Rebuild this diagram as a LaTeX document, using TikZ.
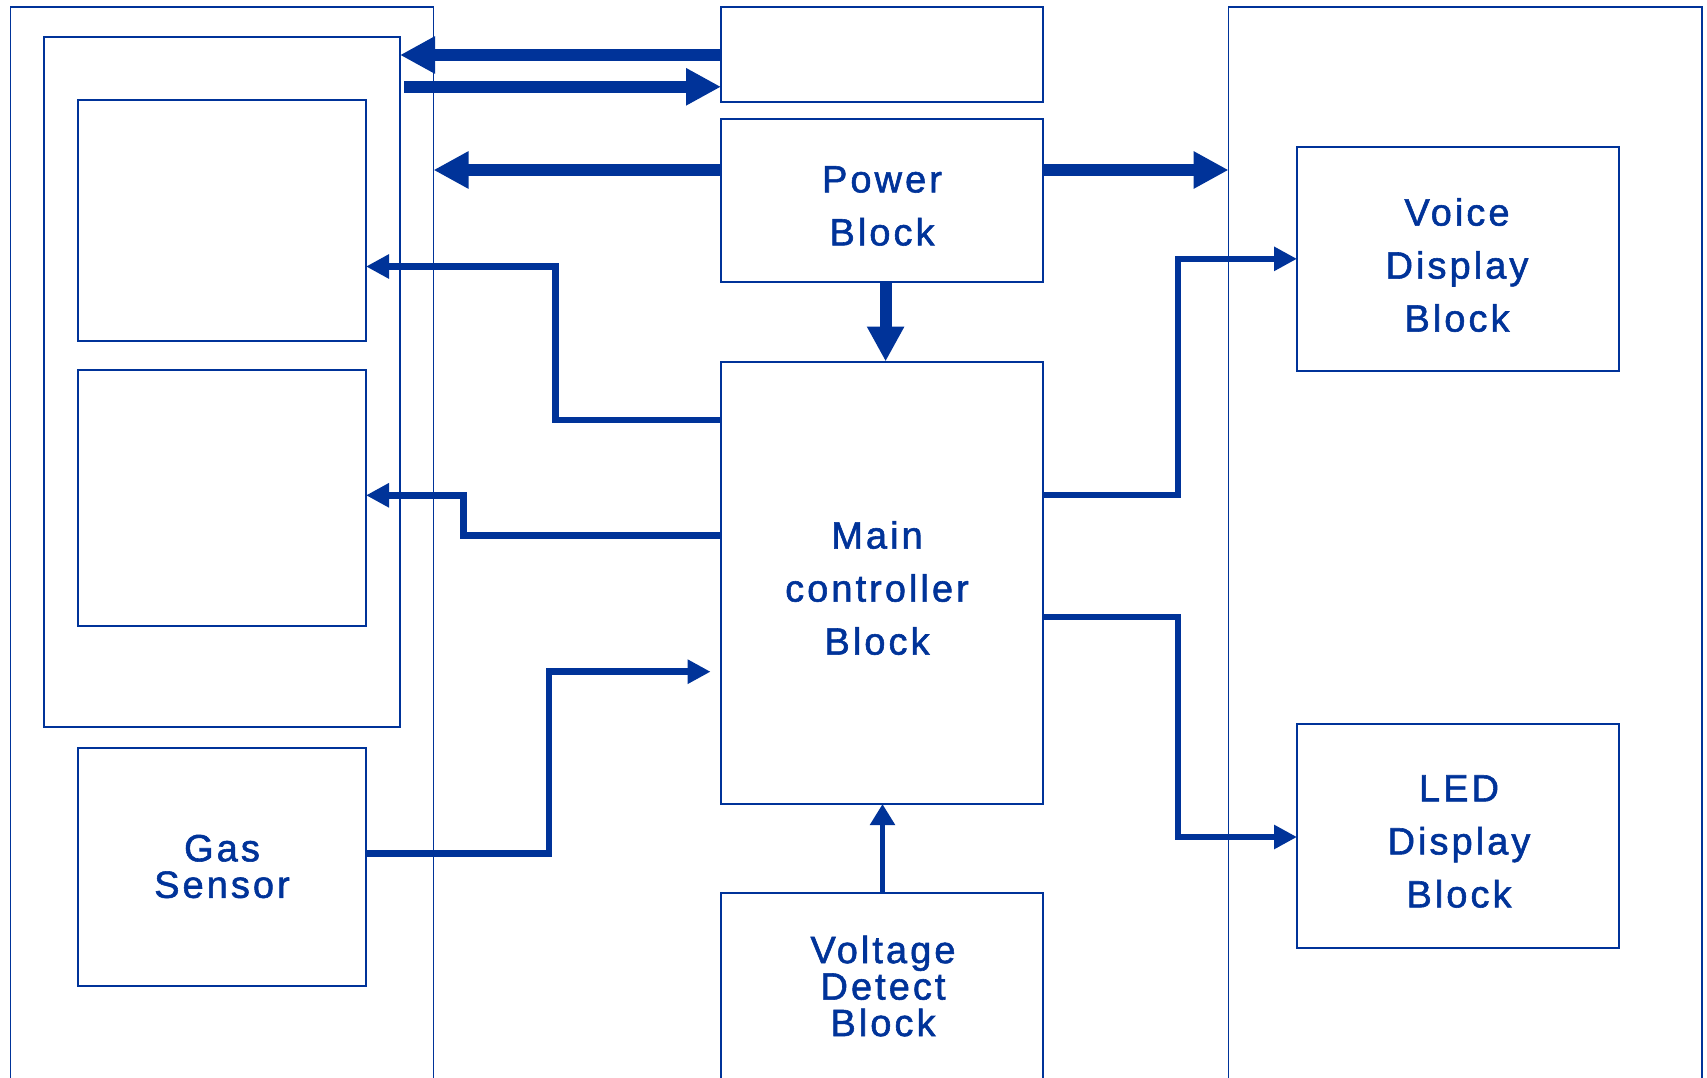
\documentclass[tikz,border=0pt]{standalone}
\usepackage{fontspec}
\setmainfont{Liberation Sans}
\newfontfamily\lblfont[LetterSpace=8,FakeBold=1.5]{Liberation Sans}
\usetikzlibrary{arrows.meta}
\definecolor{bl}{HTML}{003399}
\begin{document}
\begin{tikzpicture}[x=1pt,y=-1pt,
  frame/.style={draw=bl, line width=1.5pt, inner sep=0pt, outer sep=0pt},
  box/.style={draw=bl, line width=2pt, inner sep=0pt, outer sep=0pt},
  lbl/.style={text=bl, align=center, inner sep=0pt, font=\lblfont\fontsize{38}{53}\selectfont},
  lbltight/.style={text=bl, align=center, inner sep=0pt, font=\lblfont\fontsize{38}{36.5}\selectfont},
  fat/.style={draw=bl, line width=12pt, -{Triangle[length=35pt,width=35pt]}},
  med/.style={draw=bl, line width=6.5pt, -{Triangle[length=23pt,width=23pt]}},
  thin/.style={draw=bl, line width=5.5pt, -{Triangle[length=21pt,width=24pt]}}]
\useasboundingbox (0,0) rectangle (1707,1078);
\fill[white] (0,0) rectangle (1707,1078);
\clip (0,0) rectangle (1707,1078);

% frames and boxes
\node[frame, minimum width=423pt, minimum height=1083pt] (outerL) at (222,548.5) {};
\node[frame, minimum width=356pt, minimum height=690pt] (inner) at (222,382) {};
\node[box, minimum width=288.5pt, minimum height=241pt] (boxA) at (221.75,220.5) {};
\node[box, minimum width=288.5pt, minimum height=256pt] (boxB) at (221.75,498) {};
\node[box, minimum width=288.5pt, minimum height=238.5pt] (gas) at (221.75,866.75) {};
\node[box, minimum width=322pt, minimum height=95.5pt] (topbox) at (882,54.75) {};
\node[box, minimum width=322pt, minimum height=162.8pt] (power) at (882,200.1) {};
\node[box, minimum width=322pt, minimum height=442.5pt] (main) at (882,582.75) {};
\node[box, minimum width=322pt, minimum height=197pt] (volt) at (882,991.5) {};
\node[frame, minimum width=473.4pt, minimum height=1083pt] (rightF) at (1465.3,548.5) {};
\node[box, minimum width=321.5pt, minimum height=223.7pt] (voice) at (1457.75,258.85) {};
\node[box, minimum width=321.5pt, minimum height=223.8pt] (led) at (1457.75,835.9) {};

% labels
\node[lbl] (tpower) at (882,206) {Power\\Block};
\node[lbl] (tmain) at (877,588) {Main\\controller\\Block};
\node[lbl] (tvoice) at (1457,265) {Voice\\Display\\Block};
\node[lbl] (tled) at (1459,841.5) {LED\\Display\\Block};
\node[lbltight] (tgas) at (222,866.5) {Gas\\Sensor};
\node[lbltight] (tvolt) at (883,986) {Voltage\\Detect\\Block};

% helper coordinates
\coordinate (r1) at (0,55);
\coordinate (r2) at (0,86.8);
\coordinate (r3) at (0,170);
\coordinate (c5) at (885.6,0);
\coordinate (a2s) at (404,86.8);
\coordinate (ya) at (0,420);
\coordinate (yb) at (0,266.5);
\coordinate (yc) at (0,535.3);
\coordinate (yd) at (0,495.3);
\coordinate (ye) at (0,853.7);
\coordinate (gtip) at (710.6,671.7);
\coordinate (yf) at (0,495);
\coordinate (yg) at (0,617);
\coordinate (yh) at (0,837);
\coordinate (cv) at (882.5,0);

% thick arrows
\draw[fat] (topbox.west |- r1) -- (inner.east |- r1);
\draw[fat] (a2s) -- (topbox.west |- r2);
\draw[fat] (power.west |- r3) -- (outerL.east |- r3);
\draw[fat] (power.east |- r3) -- (rightF.west |- r3);
\draw[fat] (power.south -| c5) -- (main.north -| c5);

% medium connectors
\draw[med] (main.west |- ya) -| (555.7,266.5) -- (boxA.east |- yb);
\draw[med] (main.west |- yc) -| (463.6,495.3) -- (boxB.east |- yd);
\draw[med] (gas.east |- ye) -| (549,671.7) -- (gtip);
\draw[med] (main.east |- yf) -| (1178,258.85) -- (voice.west);
\draw[med] (main.east |- yg) -| (1178,837) -- (led.west |- yh);
\draw[thin] (volt.north -| cv) -- (main.south -| cv);
\end{tikzpicture}
\end{document}
